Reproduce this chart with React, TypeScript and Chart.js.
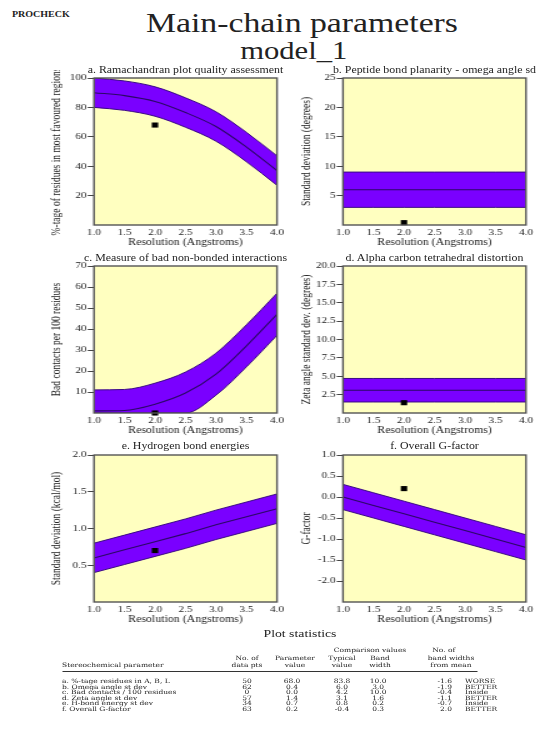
import React, { useEffect, useRef } from "react";
import { Chart, registerables } from "chart.js";

Chart.register(...registerables);

const SERIF = '"Liberation Serif", "Times New Roman", serif';
const TABLE_FONT = '"DejaVu Serif", "Liberation Serif", serif';
const TEXT = "#222222";
const YELLOW = "#ffffc0";
const BAND = "#7a00ff";
const EDGE = "#3a0a85";
const MEAN = "#2b0866";
const FRAME = "#555555";

// ---------- data ----------
const resolutions = [1.0, 1.5, 2.0, 2.5, 3.0, 3.5, 4.0];

const ramaUpper = [100, 98, 94, 86.5, 77, 63, 47];
const ramaMean = [90, 88, 84, 76.5, 67, 53, 37];
const ramaLower = [80, 78, 74, 66.5, 57, 43, 27];

const omegaUpper = [9, 9, 9, 9, 9, 9, 9];
const omegaMean = [6, 6, 6, 6, 6, 6, 6];
const omegaLower = [3, 3, 3, 3, 3, 3, 3];

const contactsUpper = [11, 11.2, 14.2, 19.5, 28.5, 42, 57];
const contactsMean = [1, 1.2, 4.2, 9.5, 18.5, 32, 47];
const contactsLower = [0, 0, 0, 0, 8.5, 22, 37];

const zetaUpper = [4.7, 4.7, 4.7, 4.7, 4.7, 4.7, 4.7];
const zetaMean = [3.1, 3.1, 3.1, 3.1, 3.1, 3.1, 3.1];
const zetaLower = [1.5, 1.5, 1.5, 1.5, 1.5, 1.5, 1.5];

const hbondUpper = [0.8, 0.91, 1.02, 1.13, 1.25, 1.36, 1.47];
const hbondMean = [0.6, 0.71, 0.82, 0.93, 1.05, 1.16, 1.27];
const hbondLower = [0.4, 0.51, 0.62, 0.73, 0.85, 0.96, 1.07];

const gfactorUpper = [0.3, 0.1, -0.1, -0.3, -0.5, -0.7, -0.9];
const gfactorMean = [0.0, -0.2, -0.4, -0.6, -0.8, -1.0, -1.2];
const gfactorLower = [-0.3, -0.5, -0.7, -0.9, -1.1, -1.3, -1.5];

const modelResolution = 2.0;
const modelValues = [68.0, 0.4, 0.0, 1.4, 0.7, 0.2];

const panelTitles = [
  "a. Ramachandran plot quality assessment",
  "b. Peptide bond planarity - omega angle sd",
  "c. Measure of bad non-bonded interactions",
  "d. Alpha carbon tetrahedral distortion",
  "e. Hydrogen bond energies",
  "f. Overall G-factor",
];
const yTitles = [
  "%-tage of residues in most favoured regions",
  "Standard deviation (degrees)",
  "Bad contacts per 100 residues",
  "Zeta angle standard dev. (degrees)",
  "Standard deviation (kcal/mol)",
  "G-factor",
];
const xTitle = "Resolution (Angstroms)";
const yMins = [0, 0, 0, 0, 0, -2.5];
const yMaxs = [100, 25, 70, 20, 2, 1];
const ySteps = [20, 5, 10, 2.5, 0.5, 0.5];
const yDecimals = [0, 0, 0, 1, 1, 1];
const smoothPanels = [true, false, true, false, false, false];

const tableParams = [
  "a. %-tage residues in A, B, L",
  "b. Omega angle st dev",
  "c. Bad contacts / 100 residues",
  "d. Zeta angle st dev",
  "e. H-bond energy st dev",
  "f. Overall G-factor",
];
const tableDataPts = ["50", "62", "0", "57", "34", "63"];
const tableParamValues = ["68.0", "0.4", "0.0", "1.4", "0.7", "0.2"];
const tableTypical = ["83.8", "6.0", "4.2", "3.1", "0.8", "-0.4"];
const tableBandWidth = ["10.0", "3.0", "10.0", "1.6", "0.2", "0.3"];
const tableFromMean = ["-1.6", "-1.9", "-0.4", "-1.1", "-0.7", "2.0"];
const tableVerdicts = ["WORSE", "BETTER", "Inside", "BETTER", "Inside", "BETTER"];

const uppers = [ramaUpper, omegaUpper, contactsUpper, zetaUpper, hbondUpper, gfactorUpper];
const means = [ramaMean, omegaMean, contactsMean, zetaMean, hbondMean, gfactorMean];
const lowers = [ramaLower, omegaLower, contactsLower, zetaLower, hbondLower, gfactorLower];

// ---------- layout (virtual coords, stretched horizontally) ----------
const STRETCH = 1.25;
const COLS = [
  { x: 0, w: 230, padL: 39.9, yW: 35.3, padR: 8.4 },
  { x: 228, w: 202, padL: 11.9, yW: 34.5, padR: 9.2 },
];
const ROW_TOPS = [78, 266, 455];
const PAD_TOP = 8;
const PLOT_H = 147;
const X_H = 23;
const CANVAS_H = PAD_TOP + PLOT_H + X_H;

const framePlugin = {
  id: "frameBg",
  beforeDatasetsDraw(chart: any) {
    const { ctx, chartArea } = chart;
    const { left, top, right, bottom } = chartArea;
    ctx.save();
    ctx.fillStyle = YELLOW;
    ctx.fillRect(left, top, right - left, bottom - top);
    ctx.restore();
  },
  afterDatasetsDraw(chart: any) {
    const { ctx, chartArea } = chart;
    const { left, top, right, bottom } = chartArea;
    ctx.save();
    ctx.strokeStyle = FRAME;
    ctx.lineWidth = 1.4;
    ctx.strokeRect(left, top, right - left, bottom - top);
    ctx.restore();
  },
};

function Panel({ index }: { index: number }) {
  const ref = useRef<HTMLCanvasElement>(null);
  const col = index % 2;
  const row = Math.floor(index / 2);
  const g = COLS[col];
  const top = ROW_TOPS[row] - PAD_TOP;

  useEffect(() => {
    const toPts = (arr: number[]) => resolutions.map((x, i) => ({ x, y: arr[i] }));
    const min = yMins[index];
    const max = yMaxs[index];
    const dec = yDecimals[index];
    const interp = smoothPanels[index] ? "monotone" : "default";
    const font = { family: SERIF, size: 9 };
    const titleFont = { family: SERIF, size: 9.5 };
    const chart = new Chart(ref.current as HTMLCanvasElement, {
      type: "line",
      data: {
        datasets: [
          {
            label: "model_1",
            data: [{ x: modelResolution, y: modelValues[index] }],
            showLine: false,
            pointStyle: "rect",
            pointRadius: 3.6,
            pointBackgroundColor: "#000000",
            pointBorderColor: "#000000",
            pointBorderWidth: 0,
            clip: false,
          } as any,
          {
            label: "mean",
            data: toPts(means[index]),
            borderColor: MEAN,
            borderWidth: 1.1,
            pointRadius: 0,
            fill: false,
            cubicInterpolationMode: interp,
          } as any,
          {
            label: "lower",
            data: toPts(lowers[index]),
            borderColor: EDGE,
            borderWidth: 1,
            pointRadius: 0,
            fill: false,
            cubicInterpolationMode: interp,
          } as any,
          {
            label: "upper",
            data: toPts(uppers[index]),
            borderColor: EDGE,
            borderWidth: 1,
            pointRadius: 0,
            backgroundColor: BAND,
            fill: "-1",
            cubicInterpolationMode: interp,
          } as any,
        ],
      },
      options: {
        animation: false,
        responsive: false,
        devicePixelRatio: 1,
        events: [],
        layout: { padding: { left: g.padL, right: g.padR, top: PAD_TOP, bottom: 0 } },
        plugins: {
          legend: { display: false },
          tooltip: { enabled: false },
          title: { display: false },
        },
        scales: {
          x: {
            type: "linear",
            min: 1,
            max: 4,
            afterFit: (s: any) => {
              s.height = X_H;
            },
            ticks: {
              stepSize: 0.5,
              autoSkip: false,
              maxRotation: 0,
              padding: 2,
              color: TEXT,
              font,
              callback: (v: any) => Number(v).toFixed(1),
            },
            grid: { display: false, drawTicks: false, tickLength: 0 },
            border: { display: false },
            title: { display: true, text: xTitle, color: TEXT, font: titleFont, padding: 0 },
          },
          y: {
            type: "linear",
            min,
            max,
            afterFit: (s: any) => {
              s.width = g.yW;
            },
            afterBuildTicks: (s: any) => {
              s.ticks = s.ticks.filter((t: any) => Math.abs(t.value - min) > 1e-9);
            },
            ticks: {
              stepSize: ySteps[index],
              padding: 1,
              color: TEXT,
              font,
              callback: (v: any) => Number(v).toFixed(dec),
            },
            grid: {
              display: true,
              drawOnChartArea: false,
              drawTicks: true,
              tickLength: 5,
              color: "#444444",
            },
            border: { display: false },
            title: { display: true, text: yTitles[index], color: TEXT, font: titleFont, padding: 0 },
          },
        },
      } as any,
      plugins: [framePlugin],
    });
    return () => chart.destroy();
  }, []);

  return (
    <canvas
      ref={ref}
      width={g.w}
      height={CANVAS_H}
      style={{ position: "absolute", left: g.x, top, width: g.w, height: CANVAS_H }}
    />
  );
}

function Txt(props: {
  x: number;
  y: number;
  size: number;
  align?: "left" | "center" | "right";
  family?: string;
  weight?: string | number;
  children: React.ReactNode;
}) {
  const { x, y, size, align = "left", family = SERIF, weight = "normal", children } = props;
  const W = 400;
  const left = align === "left" ? x : align === "center" ? x - W / 2 : x - W;
  return (
    <div
      style={{
        position: "absolute",
        left,
        top: y - size / 2,
        width: W,
        textAlign: align,
        fontSize: size,
        lineHeight: `${size}px`,
        fontFamily: family,
        fontWeight: weight as any,
        whiteSpace: "nowrap",
        color: TEXT,
      }}
    >
      {children}
    </div>
  );
}

export default function App() {
  const titleRowsY = [71, 258.5, 447];
  const colCenters = [
    (COLS[0].x + COLS[0].padL + COLS[0].yW + COLS[0].x + COLS[0].w - COLS[0].padR) / 2,
    (COLS[1].x + COLS[1].padL + COLS[1].yW + COLS[1].x + COLS[1].w - COLS[1].padR) / 2,
  ];
  const tSize = 6;
  const rowY0 = 681;
  const rowStep = 5.6;
  const cData = 197.6;
  const cParam = 233.6;
  const cTyp = 273.6;
  const cBand = 302.5;
  const rMean = 361.6;
  const lVerdict = 372;
  const lName = 49.6;

  return (
    <div
      style={{
        position: "absolute",
        left: 0,
        top: 0,
        width: 538 / STRETCH,
        height: 747,
        transform: `scaleX(${STRETCH})`,
        transformOrigin: "0 0",
        background: "#ffffff",
        fontFamily: SERIF,
        overflow: "visible",
      }}
    >
      <Txt x={9.6} y={15} size={8} weight="bold">PROCHECK</Txt>
      <Txt x={241.6} y={23.5} size={27} align="center">Main-chain parameters</Txt>
      <Txt x={235} y={51} size={24.5} align="center">model_1</Txt>

      {[0, 1, 2, 3, 4, 5].map((i) => (
        <Txt key={"t" + i} x={colCenters[i % 2]} y={titleRowsY[Math.floor(i / 2)]} size={9.5} align="center">
          {panelTitles[i]}
        </Txt>
      ))}
      {[0, 1, 2, 3, 4, 5].map((i) => (
        <Panel key={"p" + i} index={i} />
      ))}

      <Txt x={240} y={633} size={11} align="center">Plot statistics</Txt>

      <Txt x={296} y={650} size={tSize} align="center" family={TABLE_FONT}>Comparison values</Txt>
      <Txt x={355} y={650} size={tSize} align="center" family={TABLE_FONT}>No. of</Txt>

      <Txt x={cData} y={657.5} size={tSize} align="center" family={TABLE_FONT}>No. of</Txt>
      <Txt x={236} y={657.5} size={tSize} align="center" family={TABLE_FONT}>Parameter</Txt>
      <Txt x={cTyp} y={657.5} size={tSize} align="center" family={TABLE_FONT}>Typical</Txt>
      <Txt x={304} y={657.5} size={tSize} align="center" family={TABLE_FONT}>Band</Txt>
      <Txt x={360.8} y={657.5} size={tSize} align="center" family={TABLE_FONT}>band widths</Txt>

      <Txt x={lName} y={665} size={tSize} family={TABLE_FONT}>Stereochemical parameter</Txt>
      <Txt x={cData} y={665} size={tSize} align="center" family={TABLE_FONT}>data pts</Txt>
      <Txt x={236} y={665} size={tSize} align="center" family={TABLE_FONT}>value</Txt>
      <Txt x={cTyp} y={665} size={tSize} align="center" family={TABLE_FONT}>value</Txt>
      <Txt x={304} y={665} size={tSize} align="center" family={TABLE_FONT}>width</Txt>
      <Txt x={360.8} y={665} size={tSize} align="center" family={TABLE_FONT}>from mean</Txt>

      <div
        style={{
          position: "absolute",
          left: lName,
          top: 671,
          width: 381.6 - lName,
          height: 0,
          borderTop: "1.6px solid #333333",
        }}
      />

      {tableParams.map((name, i) => {
        const y = rowY0 + i * rowStep;
        return (
          <React.Fragment key={"r" + i}>
            <Txt x={lName} y={y} size={tSize} family={TABLE_FONT}>{name}</Txt>
            <Txt x={cData} y={y} size={tSize} align="center" family={TABLE_FONT}>{tableDataPts[i]}</Txt>
            <Txt x={cParam} y={y} size={tSize} align="center" family={TABLE_FONT}>{tableParamValues[i]}</Txt>
            <Txt x={cTyp} y={y} size={tSize} align="center" family={TABLE_FONT}>{tableTypical[i]}</Txt>
            <Txt x={cBand} y={y} size={tSize} align="center" family={TABLE_FONT}>{tableBandWidth[i]}</Txt>
            <Txt x={rMean} y={y} size={tSize} align="right" family={TABLE_FONT}>{tableFromMean[i]}</Txt>
            <Txt x={lVerdict} y={y} size={tSize} family={TABLE_FONT}>{tableVerdicts[i]}</Txt>
          </React.Fragment>
        );
      })}
    </div>
  );
}
